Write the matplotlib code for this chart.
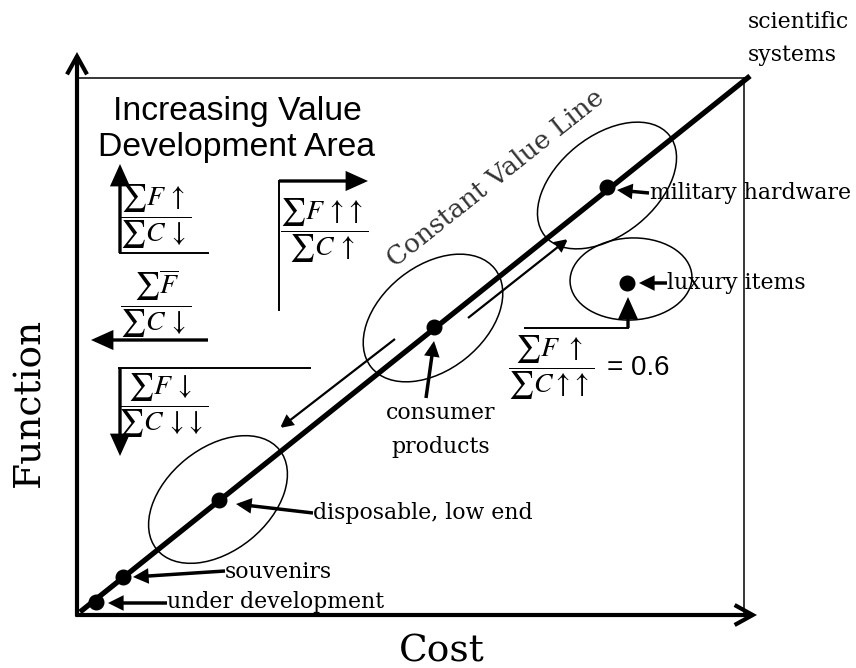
import matplotlib
matplotlib.use("Agg")
import matplotlib.pyplot as plt
from matplotlib.patches import Ellipse

plt.rcParams['mathtext.fontset'] = 'stix'

# ---- data (figure-pixel coordinates, y measured upward) ----
categories = ['under development', 'souvenirs', 'disposable, low end',
              'consumer products', 'military hardware', 'luxury items']
cost = [96, 123, 219, 434, 607, 627]
function = [66, 91, 168, 341, 481, 385]

value_line_cost = [80, 750]
value_line_function = [56, 592]

ratio_formulas = [r'$\dfrac{\sum F\,\uparrow}{\sum C\,\downarrow}$',
                  r'$\dfrac{\sum F\,\uparrow\!\uparrow}{\sum C\,\uparrow}$',
                  r'$\dfrac{\sum \overline{F}}{\sum C\,\downarrow}$',
                  r'$\dfrac{\sum F\,\downarrow}{\sum C\,\downarrow\!\downarrow}$',
                  r'$\dfrac{\sum F\ \uparrow}{\sum C\uparrow\!\uparrow}$']
luxury_ratio = '= 0.6'

W, H = 856, 668
fig = plt.figure(figsize=(W / 100, H / 100), dpi=100)
ax = fig.add_axes([0, 0, 1, 1])
ax.set_xlim(0, W)
ax.set_ylim(0, H)
ax.axis('off')

SERIF = 'DejaVu Serif'
SANS = 'Liberation Sans'

def arrow(x0, y0, x1, y1, lw=2.2, style='-|>', ms=20, **kw):
    ax.annotate('', xy=(x1, y1), xytext=(x0, y0),
                arrowprops=dict(arrowstyle=style, lw=lw, color='k',
                                mutation_scale=ms, shrinkA=0, shrinkB=0,
                                joinstyle='miter', capstyle='butt', **kw))

# axes with open arrowheads
ox, oy = 77, 53
arrow(ox, oy - 1.5, ox, 616, lw=3, style='->, head_length=0.65, head_width=0.36')
arrow(ox - 1.5, oy, 757, oy, lw=3, style='->, head_length=0.65, head_width=0.36')

# thin frame
ax.plot([ox, 747], [590, 590], color='k', lw=1.1)
ax.plot([744, 744], [590, oy], color='k', lw=1.1)

# constant value line
ax.plot(value_line_cost, value_line_function, color='k', lw=3.8,
        solid_capstyle='butt', zorder=3)

# ellipses
for (cx, cy, w, h, a) in [(218, 168.5, 158, 103, 39),
                          (433, 350, 158, 104, 38.5),
                          (607, 482.5, 160, 99, 39),
                          (631, 389, 122, 82, 3)]:
    ax.add_patch(Ellipse((cx, cy), w, h, angle=a, fill=False,
                         edgecolor='k', lw=1.1, zorder=2))

# points
ax.plot(cost, function, 'o', color='k', ms=10.5, zorder=4)

# point labels with arrows
lab_fs = 15.8
ax.text(167, 66, categories[0], family=SERIF, fontsize=lab_fs, va='center', ha='left')
arrow(167, 65, 108, 65, lw=2.5, ms=18)
ax.text(225, 96, categories[1], family=SERIF, fontsize=lab_fs, va='center', ha='left')
arrow(225, 97, 133, 91, lw=2.5, ms=18)
ax.text(313, 155, categories[2], family=SERIF, fontsize=lab_fs, va='center', ha='left')
arrow(313, 155, 236, 164, lw=2.5, ms=18)
ax.text(441, 255, 'consumer', family=SERIF, fontsize=lab_fs, va='center', ha='center')
ax.text(441, 221, 'products', family=SERIF, fontsize=lab_fs, va='center', ha='center')
arrow(426, 270, 434, 327, lw=2.5, ms=18)
ax.text(650, 475, categories[4], family=SERIF, fontsize=lab_fs, va='center', ha='left')
arrow(649, 475, 617, 478, lw=2.5, ms=18)
ax.text(667, 385, categories[5], family=SERIF, fontsize=lab_fs, va='center', ha='left')
arrow(667, 385, 639, 385, lw=2.5, ms=18)
ax.text(748, 646, 'scientific', family=SERIF, fontsize=lab_fs, va='center', ha='left')
ax.text(748, 613, 'systems', family=SERIF, fontsize=lab_fs, va='center', ha='left')

# constant value line label
ax.text(496, 490, 'Constant Value Line', family=SERIF, fontsize=19, color='#333333',
        rotation=38.5, rotation_mode='anchor', ha='center', va='center')

# parallel movement arrows
arrow(468, 350, 568, 429, lw=1.6, ms=18)
arrow(395, 329, 280, 240, lw=1.6, ms=18)

# title of area
ax.text(237, 548, 'Increasing Value', family=SANS, fontsize=24.3, ha='center', va='baseline')
ax.text(237, 512, 'Development Area', family=SANS, fontsize=24.3, ha='center', va='baseline')

# formula boxes
fs_f = 20
arrow(120, 415, 120, 504, lw=2.4, ms=20, style='-|>, head_length=0.6, head_width=0.27')
ax.plot([120, 208], [415, 415], color='k', lw=1.4)
ax.text(156, 451, ratio_formulas[0], fontsize=fs_f, ha='center', va='center')

arrow(279, 487, 368, 487, lw=2.4, ms=20, style='-|>, head_length=0.6, head_width=0.27')
ax.plot([279, 279], [487, 358], color='k', lw=1.4)
ax.text(324, 437, ratio_formulas[1], fontsize=fs_f, ha='center', va='center')

arrow(208, 328, 91, 328, lw=2.4, ms=20, style='-|>, head_length=0.6, head_width=0.27')
ax.text(156, 364, ratio_formulas[2], fontsize=fs_f, ha='center', va='center')

ax.plot([119, 310], [300, 300], color='k', lw=1.4)
arrow(120, 300, 120, 212, lw=2.4, ms=20, style='-|>, head_length=0.6, head_width=0.27')
ax.text(163, 262, ratio_formulas[3], fontsize=fs_f, ha='center', va='center')

ax.plot([525, 628], [340, 340], color='k', lw=1.4)
arrow(628, 340, 628, 371, lw=2.4, ms=20, style='-|>, head_length=0.6, head_width=0.27')
ax.text(551, 300, ratio_formulas[4], fontsize=fs_f, ha='center', va='center')
ax.text(607, 300, luxury_ratio, family=SANS, fontsize=20, ha='left', va='center')

# axis titles
ax.text(29, 266, 'Function', family=SERIF, fontsize=27, rotation=90, ha='center', va='center')
ax.text(442, 17, 'Cost', family=SERIF, fontsize=27, ha='center', va='center')

fig.savefig('out.png', dpi=100)
